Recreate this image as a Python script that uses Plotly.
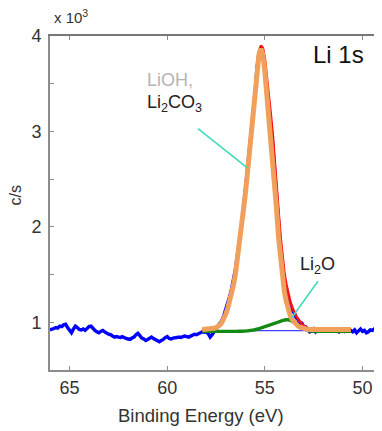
import numpy as np
import plotly.graph_objects as go

# ---------------- data ----------------
# measured spectrum (binding energy grid, 0.1 eV step, 66.0 -> 49.0)
energy = np.round(np.arange(66.0, 48.95, -0.1), 1)
counts = [
    0.92, 0.925, 0.935, 0.945, 0.94, 0.96, 0.955, 0.975, 0.98, 0.945,
    0.915, 0.89, 0.93, 0.96, 0.945, 0.925, 0.92, 0.93, 0.915, 0.935,
    0.955, 0.96, 0.935, 0.915, 0.9, 0.89, 0.905, 0.915, 0.9, 0.885,
    0.875, 0.87, 0.855, 0.845, 0.85, 0.845, 0.84, 0.85, 0.835, 0.83,
    0.825, 0.82, 0.835, 0.845, 0.87, 0.885, 0.86, 0.835, 0.825, 0.81,
    0.82, 0.835, 0.845, 0.83, 0.815, 0.8, 0.795, 0.81, 0.82, 0.84,
    0.85, 0.83, 0.825, 0.835, 0.835, 0.84, 0.845, 0.84, 0.85, 0.855,
    0.85, 0.845, 0.855, 0.865, 0.875, 0.87, 0.88, 0.885, 0.9, 0.895,
    0.9, 0.88, 0.845, 0.87, 0.9, 0.93, 0.96, 0.985, 1.02, 1.07,
    1.13, 1.2, 1.27, 1.35, 1.45, 1.56, 1.71, 1.84, 2.0, 2.18,
    2.37, 2.56, 2.78, 2.95, 3.2, 3.4, 3.67, 3.82, 3.87, 3.84,
    3.66, 3.47, 3.3, 3.08, 2.88, 2.6, 2.33, 2.04, 1.8, 1.62,
    1.44, 1.36, 1.24, 1.2, 1.12, 1.1, 1.05, 1.03, 0.99, 0.99,
    0.95, 0.95, 0.93, 0.9, 0.91, 0.93, 0.9, 0.92, 0.925, 0.915,
    0.93, 0.92, 0.91, 0.925, 0.93, 0.92, 0.915, 0.925, 0.9, 0.92,
    0.93, 0.905, 0.92, 0.93, 0.915, 0.9, 0.92, 0.89, 0.91, 0.93,
    0.905, 0.915, 0.89, 0.9, 0.92, 0.915, 0.93, 0.91, 0.94, 0.955,
    0.92,
]

# fit region grid (58.2 -> 50.6)
fit_energy = np.round(np.arange(58.2, 50.55, -0.1), 1)
# LiOH / Li2CO3 component (orange)
comp_main = [
    0.925, 0.925, 0.925, 0.925, 0.928, 0.931, 0.937, 0.943, 0.954, 0.972,
    0.999, 1.037, 1.087, 1.146, 1.219, 1.307, 1.395, 1.513, 1.66, 1.807,
    1.954, 2.16, 2.336, 2.542, 2.748, 2.954, 3.159, 3.395, 3.63, 3.806,
    3.865, 3.806, 3.63, 3.395, 3.189, 2.983, 2.748, 2.483, 2.189, 1.895,
    1.66, 1.454, 1.322, 1.219, 1.131, 1.072, 1.028, 0.999, 0.978, 0.96,
    0.949, 0.94, 0.934, 0.928, 0.925,
    0.925, 0.925, 0.925, 0.925, 0.925, 0.925, 0.925, 0.925, 0.925, 0.925, 0.925,
    0.925, 0.925, 0.925, 0.925, 0.925, 0.925, 0.925, 0.925, 0.925, 0.925, 0.925,
]
# envelope (red)
envelope = [
    0.925, 0.925, 0.925, 0.925, 0.928, 0.931, 0.937, 0.943, 0.954, 0.972,
    0.999, 1.037, 1.087, 1.146, 1.219, 1.307, 1.395, 1.513, 1.66, 1.807,
    1.954, 2.16, 2.339, 2.547, 2.755, 2.964, 3.172, 3.412, 3.652, 3.834,
    3.9, 3.874, 3.767, 3.593, 3.384, 3.19, 2.98, 2.736, 2.457, 2.169,
    1.905, 1.687, 1.517, 1.398, 1.298, 1.219, 1.157, 1.107, 1.068, 1.034,
    1.006, 0.983, 0.964, 0.949, 0.937, 0.93, 0.927,
    0.925, 0.925, 0.925, 0.925, 0.925, 0.925, 0.925, 0.925, 0.925, 0.925,
    0.925, 0.925, 0.925, 0.925, 0.925, 0.925, 0.925, 0.925, 0.925, 0.925,
]
# Li2O component (green)
comp_li2o = [
    0.905, 0.905, 0.905, 0.905, 0.905, 0.905, 0.905, 0.905, 0.905, 0.905,
    0.905, 0.905, 0.905, 0.905, 0.905, 0.905, 0.905, 0.905, 0.905, 0.906,
    0.906, 0.907, 0.908, 0.91, 0.912, 0.915, 0.918, 0.922, 0.927, 0.933,
    0.94, 0.947, 0.954, 0.961, 0.968, 0.975, 0.982, 0.989, 0.996, 1.003,
    1.011, 1.018, 1.023, 1.027, 1.026, 1.02, 1.01, 0.998, 0.984, 0.97,
    0.956, 0.943, 0.932, 0.923, 0.915, 0.91, 0.907,
    0.905, 0.905, 0.905, 0.905, 0.905, 0.905, 0.905, 0.905, 0.905, 0.905,
    0.905, 0.905, 0.905, 0.905, 0.905, 0.905, 0.905, 0.905, 0.905, 0.905,
]
# linear background
bg_energy = [58.2, 50.6]
bg_counts = [0.912, 0.912]

x_tickvals = [65, 60, 55, 50]
y_tickvals = [1, 1.5, 2, 2.5, 3, 3.5, 4]
y_ticktext = ["1", "", "2", "", "3", "", "4"]

FONT = "Liberation Sans, Arial, sans-serif"
AX = "#8c8c8c"

fig = go.Figure()
fig.add_trace(go.Scatter(x=energy, y=counts, mode="lines",
                         line=dict(color="#0000ff", width=3.4), hoverinfo="skip"))
fig.add_trace(go.Scatter(x=bg_energy, y=bg_counts, mode="lines",
                         line=dict(color="#4040ff", width=1.2), hoverinfo="skip"))
fig.add_trace(go.Scatter(x=fit_energy, y=comp_li2o, mode="lines", line_shape="spline",
                         line=dict(color="#138a13", width=3.4), hoverinfo="skip"))
fig.add_trace(go.Scatter(x=fit_energy, y=envelope, mode="lines",
                         line=dict(color="#ff1010", width=2.6), hoverinfo="skip"))
fig.add_trace(go.Scatter(x=fit_energy, y=comp_main, mode="lines",
                         line=dict(color="#f0a05a", width=5), hoverinfo="skip"))

# leader lines
fig.add_shape(type="line", xref="x", yref="y", x0=58.42, y0=3.03, x1=55.91, y1=2.62,
              line=dict(color="#3fdcbc", width=1.6))
fig.add_shape(type="line", xref="x", yref="y", x0=52.28, y0=1.43, x1=53.61, y1=1.05,
              line=dict(color="#3fdcbc", width=1.6))

ann = [
    dict(x=61.14, y=3.54, text="LiOH,", font=dict(size=18, color="#b4b4b4")),
    dict(x=61.14, y=3.29, text="Li<sub>2</sub>CO<sub>3</sub>", font=dict(size=18, color="#222222")),
    dict(x=53.30, y=1.59, text="Li<sub>2</sub>O", font=dict(size=18, color="#222222")),
]
annotations = []
for a in ann:
    annotations.append(dict(xref="x", yref="y", xanchor="left", yanchor="middle",
                            showarrow=False, **a))
annotations.append(dict(xref="x", yref="y", x=51.25, y=3.81, text="Li 1s", showarrow=False,
                        xanchor="center", yanchor="middle", font=dict(size=24, color="#111111")))
annotations.append(dict(xref="paper", yref="paper", x=(201 - 50) / 332, y=-0.135,
                        text="Binding Energy (eV)", showarrow=False, xanchor="center",
                        yanchor="middle", font=dict(size=18.5, color="#333333")))
annotations.append(dict(xref="paper", yref="paper", x=-0.104, y=0.5 + (203 - 195) / 334,
                        text="c/s", showarrow=False, textangle=-90, xanchor="center",
                        yanchor="middle", font=dict(size=16, color="#333333")))
annotations.append(dict(xref="paper", yref="paper", x=0.005, y=1.057,
                        text="x 10<sup>3</sup>", showarrow=False, xanchor="left",
                        yanchor="middle", font=dict(size=15, color="#333333")))

# page body has an 8px margin: size/margins compensate so the plot area lands
# at screen x 50..382, y 36..370
fig.update_layout(
    width=374, height=423,
    margin=dict(l=42, r=0, t=28, b=61),
    paper_bgcolor="white", plot_bgcolor="white",
    showlegend=False,
    font=dict(family=FONT, color="#333333"),
    annotations=annotations,
    xaxis=dict(range=[66, 49], tickvals=x_tickvals, ticks="inside", ticklen=4,
               tickcolor=AX, showline=True, linecolor=AX, linewidth=2,
               showgrid=False, zeroline=False, tickfont=dict(size=18, color="#333333")),
    yaxis=dict(range=[0.5, 4], tickvals=y_tickvals, ticktext=y_ticktext, ticks="inside",
               ticklen=4, tickcolor=AX, showline=True, linecolor=AX, linewidth=2,
               showgrid=False, zeroline=False, tickfont=dict(size=18, color="#333333"),
               ticklabelstandoff=3),
    xaxis2=dict(range=[66, 49], overlaying="x", side="top", tickvals=x_tickvals,
                ticks="inside", ticklen=4, tickcolor=AX, showline=True, linecolor="#777777",
                linewidth=2, showticklabels=False, showgrid=False, zeroline=False),
    yaxis2=dict(range=[0.5, 4], overlaying="y", side="right", tickvals=y_tickvals,
                ticks="inside", ticklen=4, tickcolor=AX, showline=False,
                showticklabels=False, showgrid=False, zeroline=False),
)
# invisible trace to anchor the mirror axes
fig.add_trace(go.Scatter(x=[66], y=[0.5], xaxis="x2", yaxis="y2", mode="markers",
                         marker=dict(opacity=0), hoverinfo="skip"))

fig.write_html("out.html")
